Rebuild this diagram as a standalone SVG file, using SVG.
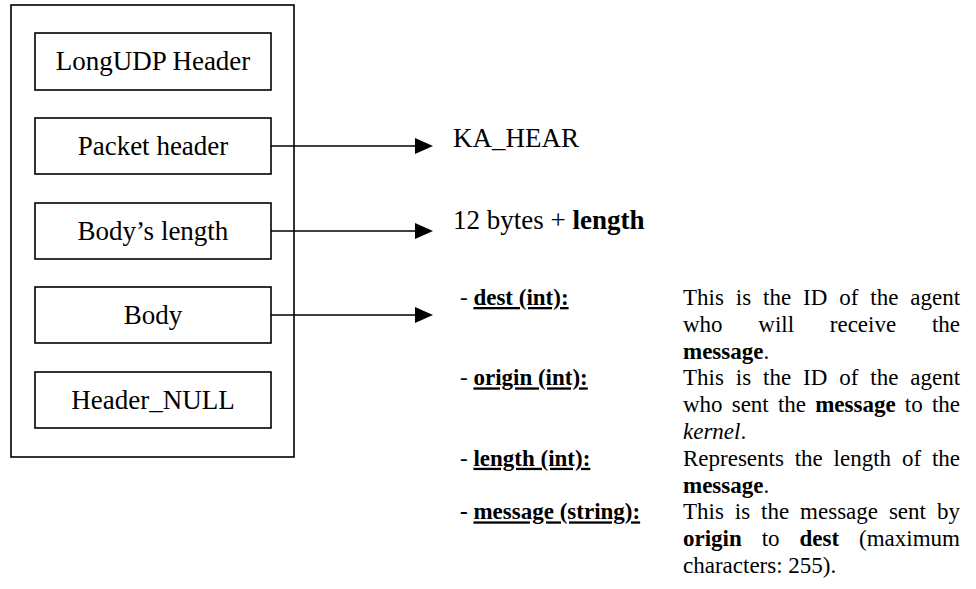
<svg xmlns="http://www.w3.org/2000/svg" width="976" height="589" viewBox="0 0 976 589">
<style>
text{font-family:"Liberation Serif","Times New Roman",serif;fill:#000}
.box{fill:#fff;stroke:#000;stroke-width:1.6}
.bt{font-size:27px;text-anchor:middle}
.big{font-size:27px}
.sm{font-size:23px}
.b{font-weight:bold}
.i{font-style:italic}
.u{text-decoration:underline}
.conn line{stroke:#000;stroke-width:1.6}
</style>
<defs>
<marker id="ah" markerUnits="userSpaceOnUse" viewBox="0 0 18 16" markerWidth="18" markerHeight="16" refX="10" refY="8" orient="auto">
<path d="M0,0 L18,8 L0,16 Z" fill="#000"/>
</marker>
</defs>
<rect id="outer" x="11" y="5" width="283" height="452" fill="#fff" stroke="#000" stroke-width="1.6"/>
<g id="n-longudp"><rect class="box" x="35" y="33" width="236" height="57"/><text class="bt" x="153" y="70">LongUDP Header</text></g>
<g id="n-packet"><rect class="box" x="35" y="118" width="236" height="56"/><text class="bt" x="153" y="155">Packet header</text></g>
<g id="n-bodylen"><rect class="box" x="35" y="203" width="236" height="56"/><text class="bt" x="153" y="240">Body’s length</text></g>
<g id="n-body"><rect class="box" x="35" y="287" width="236" height="56"/><text class="bt" x="153" y="324">Body</text></g>
<g id="n-null"><rect class="box" x="35" y="372" width="236" height="56"/><text class="bt" x="153" y="409">Header_NULL</text></g>
<g class="conn" id="connectors">
<line x1="271" y1="146" x2="425" y2="146" marker-end="url(#ah)"/>
<line x1="271" y1="231" x2="425" y2="231" marker-end="url(#ah)"/>
<line x1="271" y1="315" x2="425" y2="315" marker-end="url(#ah)"/>
</g>
<g id="t-kahear"><text class="big" x="453" y="147">KA_HEAR</text></g>
<g id="t-bytes"><text class="big" x="453" y="229">12 bytes + <tspan class="b">length</tspan></text></g>
<g id="t-body">
<text class="sm" x="460" y="305">- <tspan class="b u">dest (int):</tspan></text>
<text class="sm" x="460" y="385.4">- <tspan class="b u">origin (int):</tspan></text>
<text class="sm" x="460" y="465.8">- <tspan class="b u">length (int):</tspan></text>
<text class="sm b" x="460" y="519.4">- <tspan class="u">message (string):</tspan></text>

<text class="sm" y="305"><tspan x="683">This</tspan><tspan x="735.8">is</tspan><tspan x="763">the</tspan><tspan x="803">ID</tspan><tspan x="839.2">of</tspan><tspan x="870.3">the</tspan><tspan x="910.3">agent</tspan></text>
<text class="sm" y="331.8"><tspan x="683">who</tspan><tspan x="758.3">will</tspan><tspan x="829.8">receive</tspan><tspan x="931.9">the</tspan></text>
<text class="sm" x="683" y="358.6"><tspan class="b">message</tspan>.</text>
<text class="sm" y="385.4"><tspan x="683">This</tspan><tspan x="735.8">is</tspan><tspan x="763">the</tspan><tspan x="803">ID</tspan><tspan x="839.2">of</tspan><tspan x="870.3">the</tspan><tspan x="910.3">agent</tspan></text>
<text class="sm" y="412.2"><tspan x="683">who</tspan><tspan x="731.7">sent</tspan><tspan x="777.9">the</tspan><tspan x="815.2" class="b">message</tspan><tspan x="904.8">to</tspan><tspan x="931.9">the</tspan></text>
<text class="sm" x="683" y="439"><tspan class="i">kernel</tspan>.</text>
<text class="sm" y="465.8"><tspan x="683">Represents</tspan><tspan x="794.7">the</tspan><tspan x="833.6">length</tspan><tspan x="901.9">of</tspan><tspan x="931.9">the</tspan></text>
<text class="sm" x="683" y="492.6"><tspan class="b">message</tspan>.</text>
<text class="sm" y="519.4"><tspan x="683">This</tspan><tspan x="734.8">is</tspan><tspan x="761">the</tspan><tspan x="800.1">message</tspan><tspan x="888.9">sent</tspan><tspan x="937">by</tspan></text>
<text class="sm" y="546.2"><tspan x="683" class="b">origin</tspan><tspan x="761.7">to</tspan><tspan x="799.5" class="b">dest</tspan><tspan x="859">(maximum</tspan></text>
<text class="sm" x="683" y="573">characters: 255).</text>
</g>
</svg>
